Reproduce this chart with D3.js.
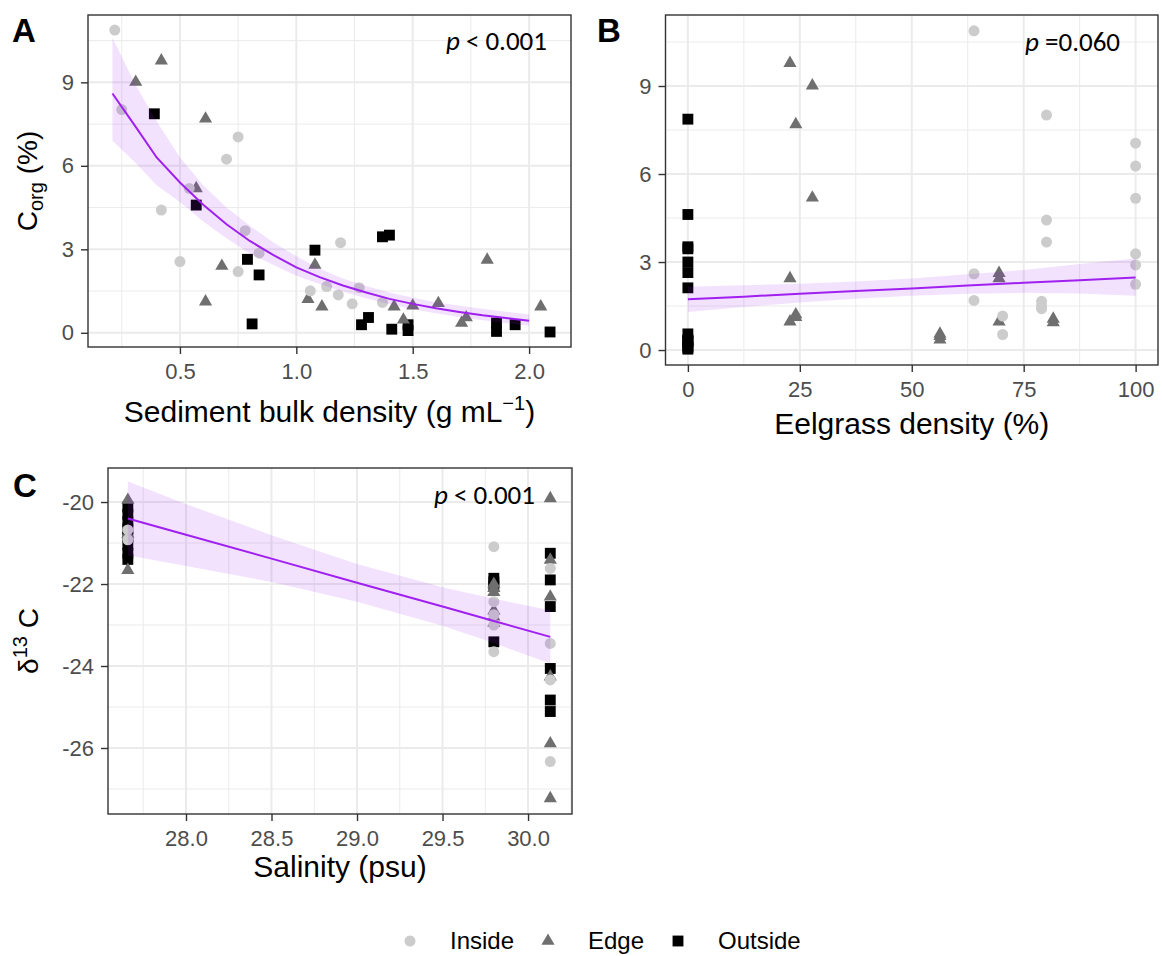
<!DOCTYPE html>
<html>
<head>
<meta charset="utf-8">
<title>Corg and d13C panels</title>
<script src="https://cdnjs.cloudflare.com/ajax/libs/d3/7.8.5/d3.min.js"></script>
<style>
  body { margin: 0; background: #fff; }
  svg { font-family: "Liberation Sans", Arial, sans-serif; }
</style>
</head>
<body>
<div id="main-container"></div>
<script>

// ---- data ----
// panel A: bulk density (g/mL) vs Corg (%)
var aInside = [[0.22,10.88],[0.25,8.02],[0.75,7.04],[0.70,6.24],[0.54,5.19],[0.42,4.41],[0.78,3.67],[0.84,2.86],
  [0.50,2.56],[0.75,2.20],[1.19,3.24],[1.06,1.51],[1.13,1.66],[1.18,1.36],[1.24,1.04],[1.27,1.62],[1.37,1.09]];
var aEdge = [[0.42,9.78],[0.31,9.01],[0.61,7.69],[0.57,5.19],[0.68,2.40],[0.61,1.12],[1.08,2.44],[1.05,1.21],
  [1.11,0.94],[1.42,0.94],[1.46,0.47],[1.50,0.97],[1.61,1.06],[1.71,0.35],[1.73,0.55],[1.82,2.62],[2.05,0.94]];
var aOutside = [[0.39,7.87],[0.57,4.59],[0.79,2.64],[0.84,2.08],[0.81,0.32],[1.08,2.97],[1.37,3.45],[1.40,3.51],
  [1.28,0.29],[1.31,0.55],[1.41,0.13],[1.48,0.29],[1.48,0.08],[1.86,0.35],[1.86,0.05],[1.94,0.29],[2.09,0.03]];
var aFitX  = [0.21, 0.31, 0.40, 0.50, 0.60, 0.70, 0.80, 0.90, 1.00, 1.10, 1.20, 1.30, 1.40, 1.50, 1.60, 1.70, 1.80, 1.90, 2.00];
var aFitY  = [8.60, 7.40, 6.30, 5.40, 4.60, 3.90, 3.30, 2.80, 2.35, 2.00, 1.70, 1.45, 1.22, 1.04, 0.88, 0.75, 0.63, 0.53, 0.43];
var aFitLo = [6.90, 6.10, 5.30, 4.70, 4.00, 3.40, 2.85, 2.45, 2.05, 1.75, 1.48, 1.24, 1.03, 0.85, 0.70, 0.57, 0.45, 0.35, 0.25];
var aFitHi = [10.60, 8.90, 7.60, 6.30, 5.30, 4.50, 3.85, 3.25, 2.75, 2.30, 1.95, 1.68, 1.45, 1.26, 1.10, 0.97, 0.86, 0.76, 0.66];

// panel B: eelgrass density (%) vs Corg (%)
var bInside = [[63.9,10.88],[80.1,8.01],[100,7.05],[100,6.27],[100,5.17],[80.1,4.43],[80.1,3.68],[100,3.28],
  [100,2.90],[100,2.24],[63.9,2.60],[63.9,1.69],[79.0,1.66],[79.0,1.51],[79.0,1.41],[70.3,1.16],[70.3,0.53]];
var bEdge = [[22.8,9.78],[27.8,9.01],[24.1,7.69],[27.8,5.19],[22.8,2.44],[24.1,1.21],[24.1,1.12],[22.8,0.97],
  [56.3,0.35],[56.3,0.47],[56.3,0.55],[69.5,2.62],[69.5,2.44],[69.5,0.97],[81.6,1.06],[81.6,0.94]];
var bOutside = [[0,7.87],[0,4.62],[0,3.52],[0,3.45],[0,3.00],[0,2.64],[0,2.12],[0,0.55],[0,0.35],[0,0.32],
  [0,0.29],[0,0.13],[0,0.08],[0,0.03]];
var bFitX  = [0, 12.5, 25, 37.5, 50, 62.5, 75, 87.5, 100];
var bFitY  = [1.73, 1.82, 1.92, 2.01, 2.10, 2.20, 2.29, 2.38, 2.47];
var bFitLo = [1.30, 1.47, 1.62, 1.75, 1.85, 1.92, 1.95, 1.93, 1.85];
var bFitHi = [2.16, 2.21, 2.26, 2.34, 2.44, 2.58, 2.73, 2.93, 3.12];

// panel C: salinity (psu) vs d13C
var cInside = [[27.66,-20.68],[27.66,-20.92],[29.80,-21.09],[29.80,-22.43],[29.80,-22.75],
  [29.80,-23.00],[29.80,-23.65],[30.13,-21.62],[30.13,-23.45],[30.13,-24.34],[30.13,-26.33]];
var cEdge = [[27.66,-19.95],[27.66,-20.78],[27.66,-21.66],[29.80,-22.00],[29.80,-22.10],
  [29.80,-22.20],[29.80,-22.65],[29.80,-22.80],[29.80,-22.95],[30.13,-19.91],[30.13,-21.41],[30.13,-22.31],
  [30.13,-24.26],[30.13,-25.89],[30.13,-27.23]];
var cOutside = [[27.66,-20.12],[27.66,-20.30],[27.66,-20.48],[27.66,-20.65],[27.66,-20.85],[27.66,-21.05],
  [27.66,-21.25],[27.66,-21.40],[29.80,-21.86],[29.80,-21.95],[29.80,-22.05],[29.80,-23.41],[30.13,-21.25],
  [30.13,-21.90],[30.13,-22.55],[30.13,-24.06],[30.13,-24.83],[30.13,-25.11]];
var cFitX  = [27.66, 28.0, 28.5, 29.0, 29.5, 29.8, 30.13];
var cFitY  = [-20.40, -20.80, -21.38, -21.97, -22.55, -22.90, -23.29];
var cFitLo = [-21.30, -21.56, -21.95, -22.43, -23.02, -23.44, -23.94];
var cFitHi = [-19.50, -20.05, -20.81, -21.51, -22.08, -22.36, -22.64];

var groups = ['Inside', 'Edge', 'Outside'];
var groupColor = {Inside: '#cccccc', Edge: '#6f6f6f', Outside: '#000000'};

// ---- drawing ----
var width = 1162, height = 956;
var svg = d3.select('#main-container').append('svg')
  .attr('width', width).attr('height', height);

var symbolFor = {
  Inside: d3.symbol().type(d3.symbolCircle).size(95),
  Edge: d3.symbol().type(d3.symbolTriangle).size(75),
  Outside: d3.symbol().type(d3.symbolSquare).size(118)
};

function plain(d){ return String(d); }

function drawPanel(p){
  var g = svg.append('g');
  var x = d3.scaleLinear().domain(p.xDomain).range([p.left, p.right]);
  var y = d3.scaleLinear().domain(p.yDomain).range([p.bottom, p.top]);

  // grid, minor then major
  g.selectAll('.gxm').data(p.xMinor).enter().append('line')
    .attr('x1', x).attr('x2', x).attr('y1', p.top).attr('y2', p.bottom)
    .attr('stroke', '#ebebeb').attr('stroke-width', 1);
  g.selectAll('.gym').data(p.yMinor).enter().append('line')
    .attr('y1', y).attr('y2', y).attr('x1', p.left).attr('x2', p.right)
    .attr('stroke', '#ebebeb').attr('stroke-width', 1);
  g.selectAll('.gx').data(p.xTicks).enter().append('line')
    .attr('x1', x).attr('x2', x).attr('y1', p.top).attr('y2', p.bottom)
    .attr('stroke', '#ebebeb').attr('stroke-width', 2);
  g.selectAll('.gy').data(p.yTicks).enter().append('line')
    .attr('y1', y).attr('y2', y).attr('x1', p.left).attr('x2', p.right)
    .attr('stroke', '#ebebeb').attr('stroke-width', 2);

  // points: squares, then triangles, then circles on top
  ['Outside', 'Edge', 'Inside'].forEach(function(k){
    g.selectAll('.pt-' + k).data(p.points[k]).enter().append('path')
      .attr('d', symbolFor[k])
      .attr('transform', function(d){ return 'translate(' + x(d[0]) + ',' + y(d[1]) + ')'; })
      .attr('fill', groupColor[k]);
  });

  // smooth: ribbon + fitted line
  var fit = p.fitX.map(function(v, i){ return {x: v, y: p.fitY[i], lo: p.fitLo[i], hi: p.fitHi[i]}; });
  g.append('path').datum(fit)
    .attr('d', d3.area().x(function(d){ return x(d.x); })
      .y0(function(d){ return y(d.lo); }).y1(function(d){ return y(d.hi); }))
    .attr('fill', '#a020f0').attr('fill-opacity', 0.13);
  g.append('path').datum(fit)
    .attr('d', d3.line().x(function(d){ return x(d.x); }).y(function(d){ return y(d.y); }))
    .attr('fill', 'none').attr('stroke', '#a020f0').attr('stroke-width', 2);

  // panel border
  g.append('rect').attr('x', p.left).attr('y', p.top)
    .attr('width', p.right - p.left).attr('height', p.bottom - p.top)
    .attr('fill', 'none').attr('stroke', '#333333').attr('stroke-width', 1.4);

  // axes
  var xa = g.append('g').attr('transform', 'translate(0,' + p.bottom + ')')
    .call(d3.axisBottom(x).tickValues(p.xTicks).tickFormat(p.xFormat).tickSize(7).tickPadding(9));
  var ya = g.append('g').attr('transform', 'translate(' + p.left + ',0)')
    .call(d3.axisLeft(y).tickValues(p.yTicks).tickFormat(plain).tickSize(7).tickPadding(7));
  [xa, ya].forEach(function(a){
    a.select('.domain').remove();
    a.selectAll('line').attr('stroke', '#333333').attr('stroke-width', 1.4);
    a.selectAll('text').attr('fill', '#4d4d4d').attr('font-size', 22)
      .attr('font-family', '"Liberation Sans", Arial, sans-serif');
  });

  // p-value
  var pt = svg.append('text').attr('x', p.pPos[0]).attr('y', p.pPos[1])
    .attr('text-anchor', 'end').attr('font-family', 'Carlito, Lato, "Open Sans", sans-serif')
    .attr('font-size', 27).attr('fill', '#000');
  pt.append('tspan').attr('font-style', 'italic').text('p');
  pt.append('tspan').text(p.pText);

  // panel letter
  svg.append('text').attr('x', p.labelPos[0]).attr('y', p.labelPos[1])
    .attr('font-size', 33).attr('font-weight', 'bold').text(p.label);

  return {x: x, y: y};
}

drawPanel({
  left: 88, right: 571, top: 15, bottom: 347,
  xDomain: [0.105, 2.18], yDomain: [-0.51, 11.42],
  xTicks: [0.5, 1.0, 1.5, 2.0], xMinor: [0.25, 0.75, 1.25, 1.75],
  yTicks: [0, 3, 6, 9], yMinor: [1.5, 4.5, 7.5, 10.5],
  xFormat: d3.format('.1f'),
  points: {Inside: aInside, Edge: aEdge, Outside: aOutside},
  fitX: aFitX, fitY: aFitY, fitLo: aFitLo, fitHi: aFitHi,
  pText: ' < 0.001', pPos: [547, 50],
  label: 'A', labelPos: [12, 42]
});

drawPanel({
  left: 665.5, right: 1158, top: 15, bottom: 365,
  xDomain: [-5, 105], yDomain: [-0.51, 11.42],
  xTicks: [0, 25, 50, 75, 100], xMinor: [12.5, 37.5, 62.5, 87.5],
  yTicks: [0, 3, 6, 9], yMinor: [1.5, 4.5, 7.5, 10.5],
  xFormat: plain,
  points: {Inside: bInside, Edge: bEdge, Outside: bOutside},
  fitX: bFitX, fitY: bFitY, fitLo: bFitLo, fitHi: bFitHi,
  pText: ' =0.060', pPos: [1120, 51],
  label: 'B', labelPos: [597, 42]
});

drawPanel({
  left: 108, right: 572, top: 468, bottom: 814,
  xDomain: [27.544, 30.257], yDomain: [-27.61, -19.17],
  xTicks: [28.0, 28.5, 29.0, 29.5, 30.0], xMinor: [27.75, 28.25, 28.75, 29.25, 29.75, 30.25],
  yTicks: [-26, -24, -22, -20], yMinor: [-27, -25, -23, -21],
  xFormat: d3.format('.1f'),
  points: {Inside: cInside, Edge: cEdge, Outside: cOutside},
  fitX: cFitX, fitY: cFitY, fitLo: cFitLo, fitHi: cFitHi,
  pText: ' < 0.001', pPos: [535, 504],
  label: 'C', labelPos: [13, 497]
});

// axis titles
var titleSize = 30;
var t1 = svg.append('text').attr('x', 329.5).attr('y', 422).attr('text-anchor', 'middle')
  .attr('font-size', titleSize);
t1.append('tspan').text('Sediment bulk density (g mL');
t1.append('tspan').attr('font-size', 20).attr('dy', -12).text('\u22121');
t1.append('tspan').attr('dy', 12).text(')');

svg.append('text').attr('x', 911.75).attr('y', 434).attr('text-anchor', 'middle')
  .attr('font-size', titleSize).text('Eelgrass density (%)');

svg.append('text').attr('x', 340).attr('y', 877).attr('text-anchor', 'middle')
  .attr('font-size', titleSize).text('Salinity (psu)');

var t4 = svg.append('text').attr('transform', 'translate(37,181) rotate(-90)')
  .attr('text-anchor', 'middle').attr('font-size', 28);
t4.append('tspan').text('C');
t4.append('tspan').attr('font-size', 20).attr('dy', 6).text('org');
t4.append('tspan').attr('dy', -6).text(' (%)');

var t5 = svg.append('text').attr('transform', 'translate(38,641) rotate(-90)')
  .attr('text-anchor', 'middle').attr('font-size', 28);
t5.append('tspan').text('\u03b4');
t5.append('tspan').attr('font-size', 20).attr('dy', -11).text('13');
t5.append('tspan').attr('dy', 11).text(' C');

// legend
var legendX = [410, 548, 678];
var legend = svg.append('g');
groups.forEach(function(k, i){
  legend.append('path').attr('d', symbolFor[k])
    .attr('transform', 'translate(' + legendX[i] + ',941)')
    .attr('fill', groupColor[k]);
  legend.append('text').attr('x', legendX[i] + 40).attr('y', 949)
    .attr('font-size', 24).text(k);
});

</script>
</body>
</html>
